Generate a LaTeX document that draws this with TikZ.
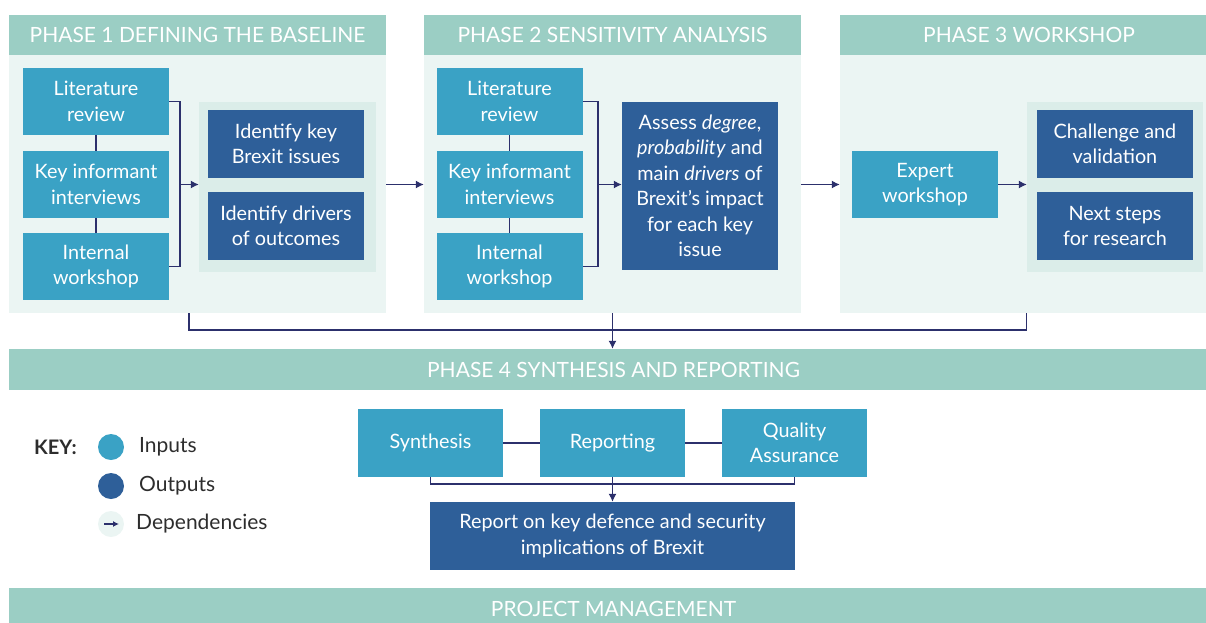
\documentclass[tikz,border=0pt]{standalone}
\usepackage{fontspec}
\setmainfont{Lato}
\usetikzlibrary{arrows.meta}

\definecolor{inblue}{RGB}{58,162,197}
\definecolor{outblue}{RGB}{46,95,153}
\definecolor{headteal}{RGB}{155,206,196}
\definecolor{panelbg}{RGB}{235,245,243}
\definecolor{grpbg}{RGB}{219,237,233}
\definecolor{navy}{RGB}{44,48,108}
\definecolor{keytext}{RGB}{45,45,45}

\tikzset{
  box/.style={rectangle, inner sep=0pt, align=center, text=white, font=\fontsize{19.8}{25.5}\selectfont},
  inbox/.style={box, fill=inblue, minimum width=146, minimum height=67},
  outbox/.style={box, fill=outblue, minimum width=156, minimum height=68},
  head/.style={rectangle, inner sep=0pt, fill=headteal, text=white, font=\fontsize{21}{21}\selectfont},
  panel/.style={rectangle, inner sep=0pt, fill=panelbg},
  grp/.style={rectangle, inner sep=0pt, fill=grpbg, minimum width=177, minimum height=170},
  link/.style={draw=navy, line width=1.2pt},
  dep/.style={link, -{Latex[length=8pt,width=8pt]}},
  keylbl/.style={anchor=west, inner sep=0pt, text=keytext, font=\fontsize{21}{21}\selectfont}
}

\begin{document}
\begin{tikzpicture}[x=1pt,y=-1pt]
  \useasboundingbox (0,0) rectangle (1206,622);
  % Phase panels and their headers
  \node[panel, minimum width=377, minimum height=298] (ph1) at (197.5,164) {};
  \node[panel, minimum width=377, minimum height=298] (ph2) at (612.5,164) {};
  \node[panel, minimum width=378, minimum height=298] (ph3) at (1029,164) {};
  \node[head, minimum width=377, minimum height=40] (ph1head) at (197.5,35) {PHASE 1 DEFINING THE BASELINE};
  \node[head, minimum width=377, minimum height=40] (ph2head) at (612.5,35) {PHASE 2 SENSITIVITY ANALYSIS};
  \node[head, minimum width=378, minimum height=40] (ph3head) at (1029,35) {PHASE 3 WORKSHOP};
  \node[head, minimum width=1209, minimum height=41] (ph4) at (613.5,369.5) {PHASE 4 SYNTHESIS AND REPORTING};
  \node[head, minimum width=1209, minimum height=42] (pm) at (613.5,609) {PROJECT MANAGEMENT};

  % Inputs of phases 1 and 2
  \foreach \ph/\x/\bx in {1/96/180, 2/509.5/598} {
    \node[inbox] (lit\ph) at (\x,101.5) {Literature\\review};
    \node[inbox] (key\ph) at (\x,184.5) {Key informant\\interviews};
    \node[inbox] (int\ph) at (\x,266.5) {Internal\\workshop};
    \draw[link] (lit\ph) -- (key\ph) -- (int\ph);
    \coordinate (br\ph) at (\bx,184.5);
    \draw[link] (lit\ph.east) -| (br\ph) |- (int\ph.east);
  }

  % Phase 1 outputs
  \node[grp] (grp1) at (287.5,187) {};
  \node[outbox] (brexit) at (286,144) {Identify key\\Brexit issues};
  \node[outbox] (drivers) at (286,226) {Identify drivers\\of outcomes};
  \draw[dep] (br1) -- (br1 -| grp1.west);

  % Phase 2 output
  \node[outbox, minimum height=168] (assess) at (700,186)
    {Assess \textit{degree},\\\textit{probability} and\\main \textit{drivers} of\\Brexit’s impact\\for each key\\issue};
  \draw[dep] (br2) -- (br2 -| assess.west);

  % Phase 3
  \node[inbox] (expert) at (925,184.5) {Expert\\workshop};
  \node[grp, minimum width=176] (grp3) at (1115,187) {};
  \node[outbox] (challenge) at (1115,144) {Challenge and\\validation};
  \node[outbox] (nextsteps) at (1115,226) {Next steps\\for research};
  \draw[dep] (expert.east) -- (expert.east -| grp3.west);

  % Dependencies between phases
  \draw[dep] (ph1.east |- key1) -- (ph2.west |- key1);
  \draw[dep] (ph2.east |- key2) -- (ph3.west |- key2);
  \coordinate (c1) at (189,330);
  \draw[link] (c1 |- ph1.south) -- (c1) -- (c1 -| grp3.west) -- (grp3.west |- ph3.south);
  \draw[dep] (ph2.south) -- (ph2.south |- ph4.north);

  % Phase 4
  \node[inbox, minimum width=145, minimum height=68] (synth) at (430.5,443) {Synthesis};
  \node[inbox, minimum width=145, minimum height=68] (report) at (612.5,443) {Reporting};
  \node[inbox, minimum width=145, minimum height=68] (quality) at (794.5,443) {Quality\\Assurance};
  \draw[link] (synth.east) -- (report.west);
  \draw[link] (report.east) -- (quality.west);
  \coordinate (br4) at (612.5,484);
  \draw[link] (synth.south) |- (br4) -| (quality.south);
  \node[outbox, minimum width=365, minimum height=68] (final) at (612.5,536)
    {Report on key defence and security\\implications of Brexit};
  \draw[dep] (report.south) -- (final.north);

  % Key
  \node[keylbl, font=\fontsize{20}{20}\selectfont\bfseries] (keyhead) at (34,447) {KEY:};
  \node[circle, inner sep=0pt, minimum size=26, fill=inblue] (kin) at (111,447) {};
  \node[circle, inner sep=0pt, minimum size=26, fill=outblue] (kout) at (111,486) {};
  \node[circle, inner sep=0pt, minimum size=26, fill=panelbg] (kdep) at (111,524) {};
  \coordinate (kdepa) at (104,524);
  \coordinate (kdepb) at (119,524);
  \draw[dep, -{Latex[length=6pt,width=6pt]}] (kdepa) -- (kdepb);
  \node[keylbl] (kinlbl) at (139,447) {Inputs};
  \node[keylbl] (koutlbl) at (139,486) {Outputs};
  \node[keylbl] (kdeplbl) at (136,524) {Dependencies};
\end{tikzpicture}
\end{document}
